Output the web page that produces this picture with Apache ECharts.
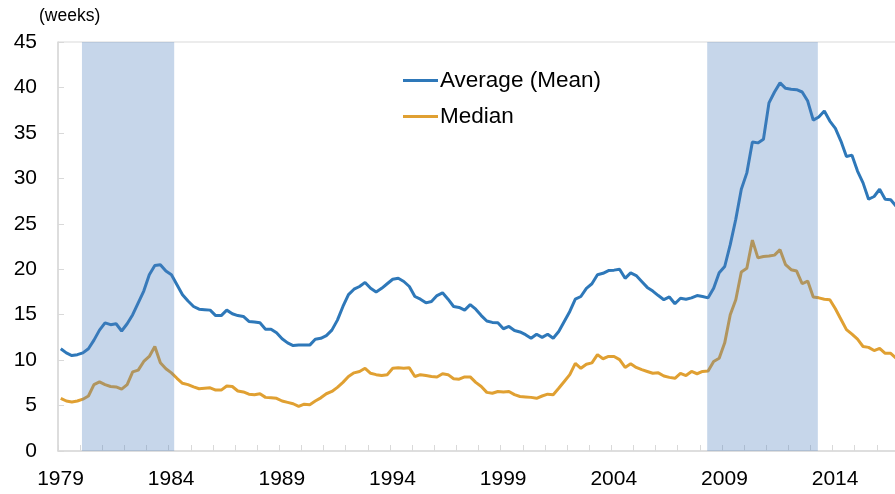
<!DOCTYPE html>
<html>
<head>
<meta charset="utf-8">
<script src="https://cdn.jsdelivr.net/npm/echarts@6/dist/echarts.min.js"></script>
<style>
  html, body { margin: 0; padding: 0; background: #fff; }
  #main { width: 895px; height: 494px; }
</style>
</head>
<body>
<div id="main"></div>
<script>
// quarterly data, first point = 1979 Q1
var startYear = 1979;

var meanWeeks = [
  11.25, 10.8, 10.5, 10.6, 10.8, 11.25, 12.2, 13.3, 14.1, 13.9,
  14.0, 13.2, 14.0, 15.0, 16.3, 17.6, 19.4, 20.4, 20.5, 19.8,
  19.4, 18.3, 17.2, 16.5, 15.9, 15.6, 15.55, 15.5, 14.9, 14.9,
  15.5, 15.1, 14.9, 14.8, 14.25, 14.2, 14.1, 13.4, 13.4, 13.0,
  12.35, 11.9, 11.6, 11.65, 11.65, 11.65, 12.3, 12.4, 12.7, 13.3,
  14.4, 15.9, 17.2, 17.8, 18.1, 18.55, 17.9, 17.5, 17.9, 18.4,
  18.9, 19.0, 18.65, 18.1, 17.0, 16.7, 16.3, 16.45, 17.1, 17.4,
  16.7, 15.9, 15.8, 15.5, 16.1, 15.6, 14.9, 14.3, 14.15, 14.1,
  13.45, 13.7, 13.25, 13.1, 12.8, 12.4, 12.85, 12.5, 12.85, 12.4,
  13.15, 14.25, 15.35, 16.7, 17.0, 17.9, 18.4, 19.4, 19.55, 19.85,
  19.9, 20.0, 19.0, 19.6, 19.3, 18.65, 18.0, 17.6, 17.1, 16.65,
  16.95, 16.2, 16.8, 16.7, 16.85, 17.1, 17.0, 16.85, 17.9, 19.6,
  20.3, 22.7, 25.5, 28.8, 30.6, 34.0, 33.9, 34.3, 38.3, 39.5,
  40.5, 39.9, 39.8, 39.75, 39.5, 38.5, 36.4, 36.75, 37.4, 36.3,
  35.5, 34.1, 32.4, 32.55, 30.8, 29.5, 27.7, 28.0, 28.8, 27.7,
  27.65, 26.9
];

var medianWeeks = [
  5.8, 5.5, 5.4, 5.5, 5.7, 6.05, 7.3, 7.6, 7.3, 7.1,
  7.05, 6.8, 7.3, 8.7, 8.9, 9.85, 10.4, 11.5, 9.7, 9.05,
  8.6, 8.0, 7.45, 7.3, 7.05, 6.85, 6.9, 6.95, 6.7, 6.7,
  7.15, 7.1, 6.6, 6.5, 6.25, 6.2, 6.3, 5.9, 5.85, 5.8,
  5.5, 5.35, 5.2, 4.9, 5.15, 5.1, 5.5, 5.85, 6.3, 6.55,
  7.0, 7.55, 8.2, 8.6, 8.75, 9.1, 8.55, 8.4, 8.3, 8.4,
  9.1, 9.15, 9.1, 9.15, 8.2, 8.4, 8.3, 8.2, 8.15, 8.5,
  8.4, 7.95, 7.9, 8.15, 8.15, 7.55, 7.1, 6.45, 6.35, 6.55,
  6.5, 6.55, 6.2, 6.0, 5.95, 5.9, 5.8, 6.05, 6.25, 6.2,
  6.9, 7.65, 8.4, 9.65, 9.1, 9.55, 9.7, 10.6, 10.15, 10.4,
  10.4, 10.05, 9.2, 9.6, 9.2, 8.95, 8.75, 8.55, 8.6, 8.25,
  8.1, 8.0, 8.55, 8.3, 8.75, 8.5, 8.75, 8.8, 9.85, 10.2,
  11.9, 15.0, 16.65, 19.7, 20.1, 23.2, 21.25, 21.4, 21.45, 21.55,
  22.15, 20.5, 19.95, 19.8, 18.4, 18.7, 16.95, 16.85, 16.7, 16.65,
  15.65, 14.5, 13.35, 12.85, 12.3, 11.5, 11.4, 11.05, 11.3, 10.75,
  10.75, 10.2
];

// shaded periods [from, to] in years
var shadedPeriods = [
  [1980.083, 1984.25],
  [2008.333, 2013.333]
];

var yTicks = [0, 5, 10, 15, 20, 25, 30, 35, 40, 45];

function toQuarterPoints(values) {
  var pts = [];
  for (var i = 0; i < values.length; i++) {
    pts.push([startYear + (i + 0.5) / 4, values[i]]);
  }
  return pts;
}

var fontFam = '"Liberation Sans", Arial, sans-serif';
var gridColor = '#d9d9d9';

var chart = echarts.init(document.getElementById('main'), null, { renderer: 'canvas' });

var option = {
  animation: false,
  backgroundColor: '#fff',
  textStyle: { fontFamily: fontFam },
  grid: {
    left: 58,
    top: 42,
    bottom: 43,
    right: -4,
    outerBoundsMode: 'none',
    containLabel: false,
    show: true,
    borderColor: gridColor,
    borderWidth: 1
  },
  legend: {
    orient: 'vertical',
    left: 403,
    top: 69,
    padding: 0,
    icon: 'rect',
    itemWidth: 35,
    itemHeight: 3,
    itemGap: 13,
    data: ['Average (Mean)', 'Median'],
    textStyle: { fontSize: 22.5, color: '#000', fontFamily: fontFam, padding: [0, 0, 0, -3] }
  },
  graphic: [{
    type: 'text',
    left: 39,
    top: 7,
    style: { text: '(weeks)', fontSize: 17.5, fill: '#000', fontFamily: fontFam }
  }],
  xAxis: {
    type: 'value',
    min: startYear,
    max: 2017,
    interval: 1,
    splitLine: { show: false },
    axisLine: { lineStyle: { color: gridColor, width: 1.5 } },
    axisTick: { inside: true, length: 6, lineStyle: { color: gridColor } },
    axisLabel: {
      fontSize: 21,
      color: '#000',
      margin: 18,
      padding: [0, 0, 0, 5],
      formatter: function (v) {
        return (v - startYear) % 5 === 0 ? String(v) : '';
      }
    }
  },
  yAxis: {
    type: 'value',
    min: yTicks[0],
    max: yTicks[yTicks.length - 1],
    interval: 5,
    splitLine: { show: false },
    axisLine: { show: true, lineStyle: { color: gridColor, width: 1.5 } },
    axisTick: { show: true, inside: true, length: 6, lineStyle: { color: gridColor } },
    axisLabel: { fontSize: 21, color: '#000', margin: 21 }
  },
  series: [
    {
      name: 'Average (Mean)',
      type: 'line',
      data: toQuarterPoints(meanWeeks),
      symbol: 'none',
      z: 2,
      itemStyle: { color: '#2E78B9' },
      lineStyle: { color: '#2E78B9', width: 3 }
    },
    {
      name: 'Median',
      type: 'line',
      data: toQuarterPoints(medianWeeks),
      symbol: 'none',
      z: 2,
      itemStyle: { color: '#E0A032' },
      lineStyle: { color: '#E0A032', width: 3 }
    },
    {
      name: 'shade',
      type: 'custom',
      z: 5,
      silent: true,
      encode: { x: [0, 1] },
      data: shadedPeriods,
      renderItem: function (params, api) {
        var p0 = api.coord([api.value(0), yTicks[yTicks.length - 1]]);
        var p1 = api.coord([api.value(1), 0]);
        return {
          type: 'rect',
          shape: { x: p0[0], y: p0[1], width: p1[0] - p0[0], height: p1[1] - p0[1] },
          style: { fill: 'rgba(79,129,189,0.32)' }
        };
      }
    }
  ]
};

chart.setOption(option);
</script>
</body>
</html>
